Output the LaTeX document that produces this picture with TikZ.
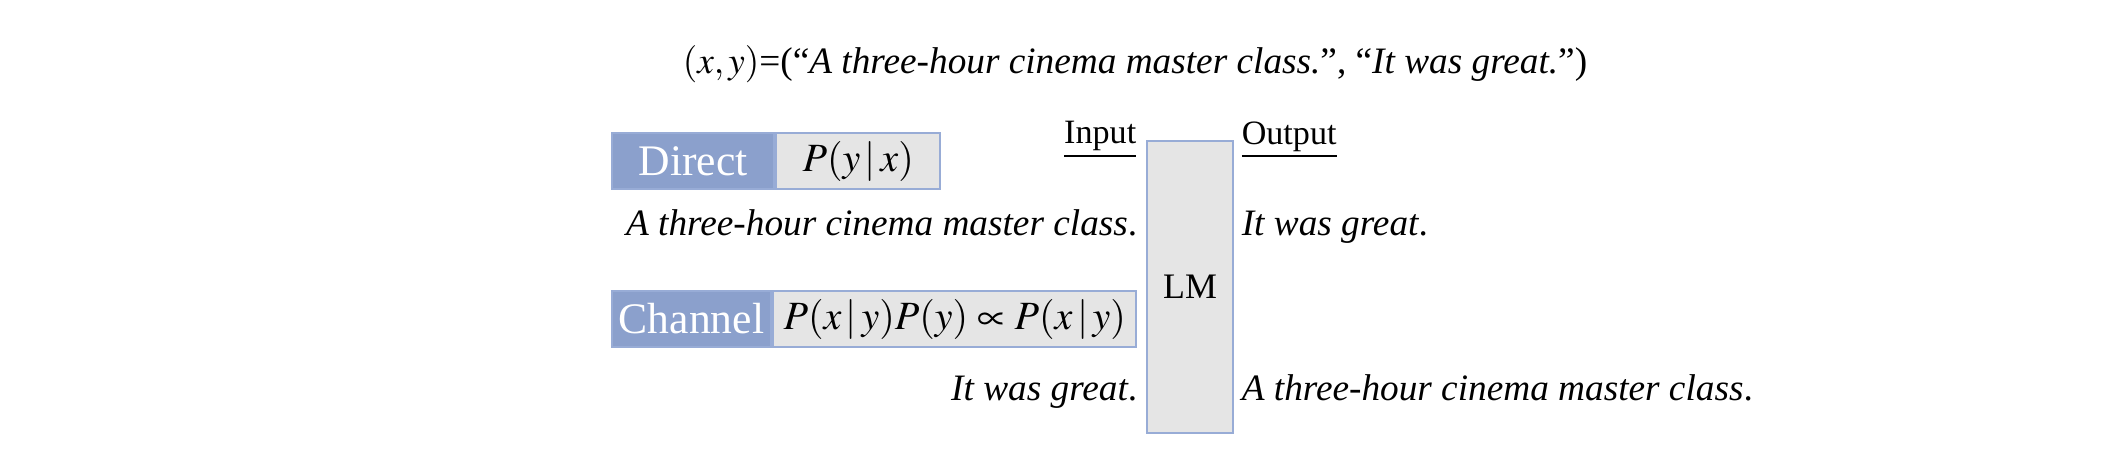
\documentclass[tikz,border=0pt]{standalone}
\usepackage{mathptmx}
\usepackage{fontspec}
\setmainfont{Liberation Serif}
\usetikzlibrary{positioning, calc}

\definecolor{tagblue}{RGB}{139,160,204}
\definecolor{edgeblue}{RGB}{152,172,214}
\definecolor{boxgray}{RGB}{229,229,229}

\begin{document}
\begin{tikzpicture}[
        x=0.01cm, y=-0.01cm,
        % Styles
        lmbox/.style={rectangle, draw=edgeblue, line width=0.6pt, fill=boxgray,
                minimum width=0.86cm, minimum height=2.92cm, inner sep=0pt,
                font=\fontsize{10.2}{12}\selectfont},
        tagbox/.style={rectangle, draw=edgeblue, line width=0.6pt, fill=tagblue, text=white,
                minimum height=0.56cm, inner sep=0pt, font=\fontsize{12.4}{14}\selectfont},
        probbox/.style={rectangle, draw=edgeblue, line width=0.6pt, fill=boxgray,
                minimum height=0.56cm, inner sep=0pt, font=\fontsize{11.4}{13}\selectfont},
        sentence/.style={inner sep=0pt, font=\fontsize{10.6}{12}\selectfont},
        iolabel/.style={inner sep=0pt, font=\fontsize{9.7}{11}\selectfont},
        ]
        \useasboundingbox (0,0) rectangle (2125,475);

        % === EXAMPLE PAIR ===
        \node[sentence, anchor=base] (pair) at (1135,73)
            {$(x, y)$=(“\textit{A three-hour cinema master class.}”, “\textit{It was great.}”)};

        % === LM ===
        \node[lmbox] (lm) at (1190,287) {LM};
        \node[iolabel, anchor=east] (inlab) at ($(lm.north west)+(-9,0)$) {\underline{Input}};
        \node[iolabel, anchor=west] (outlab) at ($(lm.north east)+(7,0)$) {\underline{Output}};

        % === DIRECT ===
        \node[tagbox, minimum width=1.62cm] (dirtag) at (693,161) {Direct};
        \node[probbox, minimum width=1.64cm, right=0pt of dirtag] (dirprob) {$P(y\,|\,x)$};
        \node[sentence, anchor=base east] (dirin) at ($(lm.west)+(-8,-52)$)
            {\textit{A three-hour cinema master class}.};
        \node[sentence, anchor=base west] (dirout) at ($(lm.east)+(7,-52)$)
            {\textit{It was great}.};

        % === CHANNEL ===
        \node[tagbox, minimum width=1.59cm] (chtag) at (691.5,319) {Channel};
        \node[probbox, minimum width=3.63cm, right=0pt of chtag] (chprob)
            {$P(x\,|\,y)P(y) \propto P(x\,|\,y)$};
        \node[sentence, anchor=base east] (chin) at ($(lm.west)+(-8,113)$)
            {\textit{It was great}.};
        \node[sentence, anchor=base west] (chout) at ($(lm.east)+(7,113)$)
            {\textit{A three-hour cinema master class}.};

    \end{tikzpicture}
\end{document}
